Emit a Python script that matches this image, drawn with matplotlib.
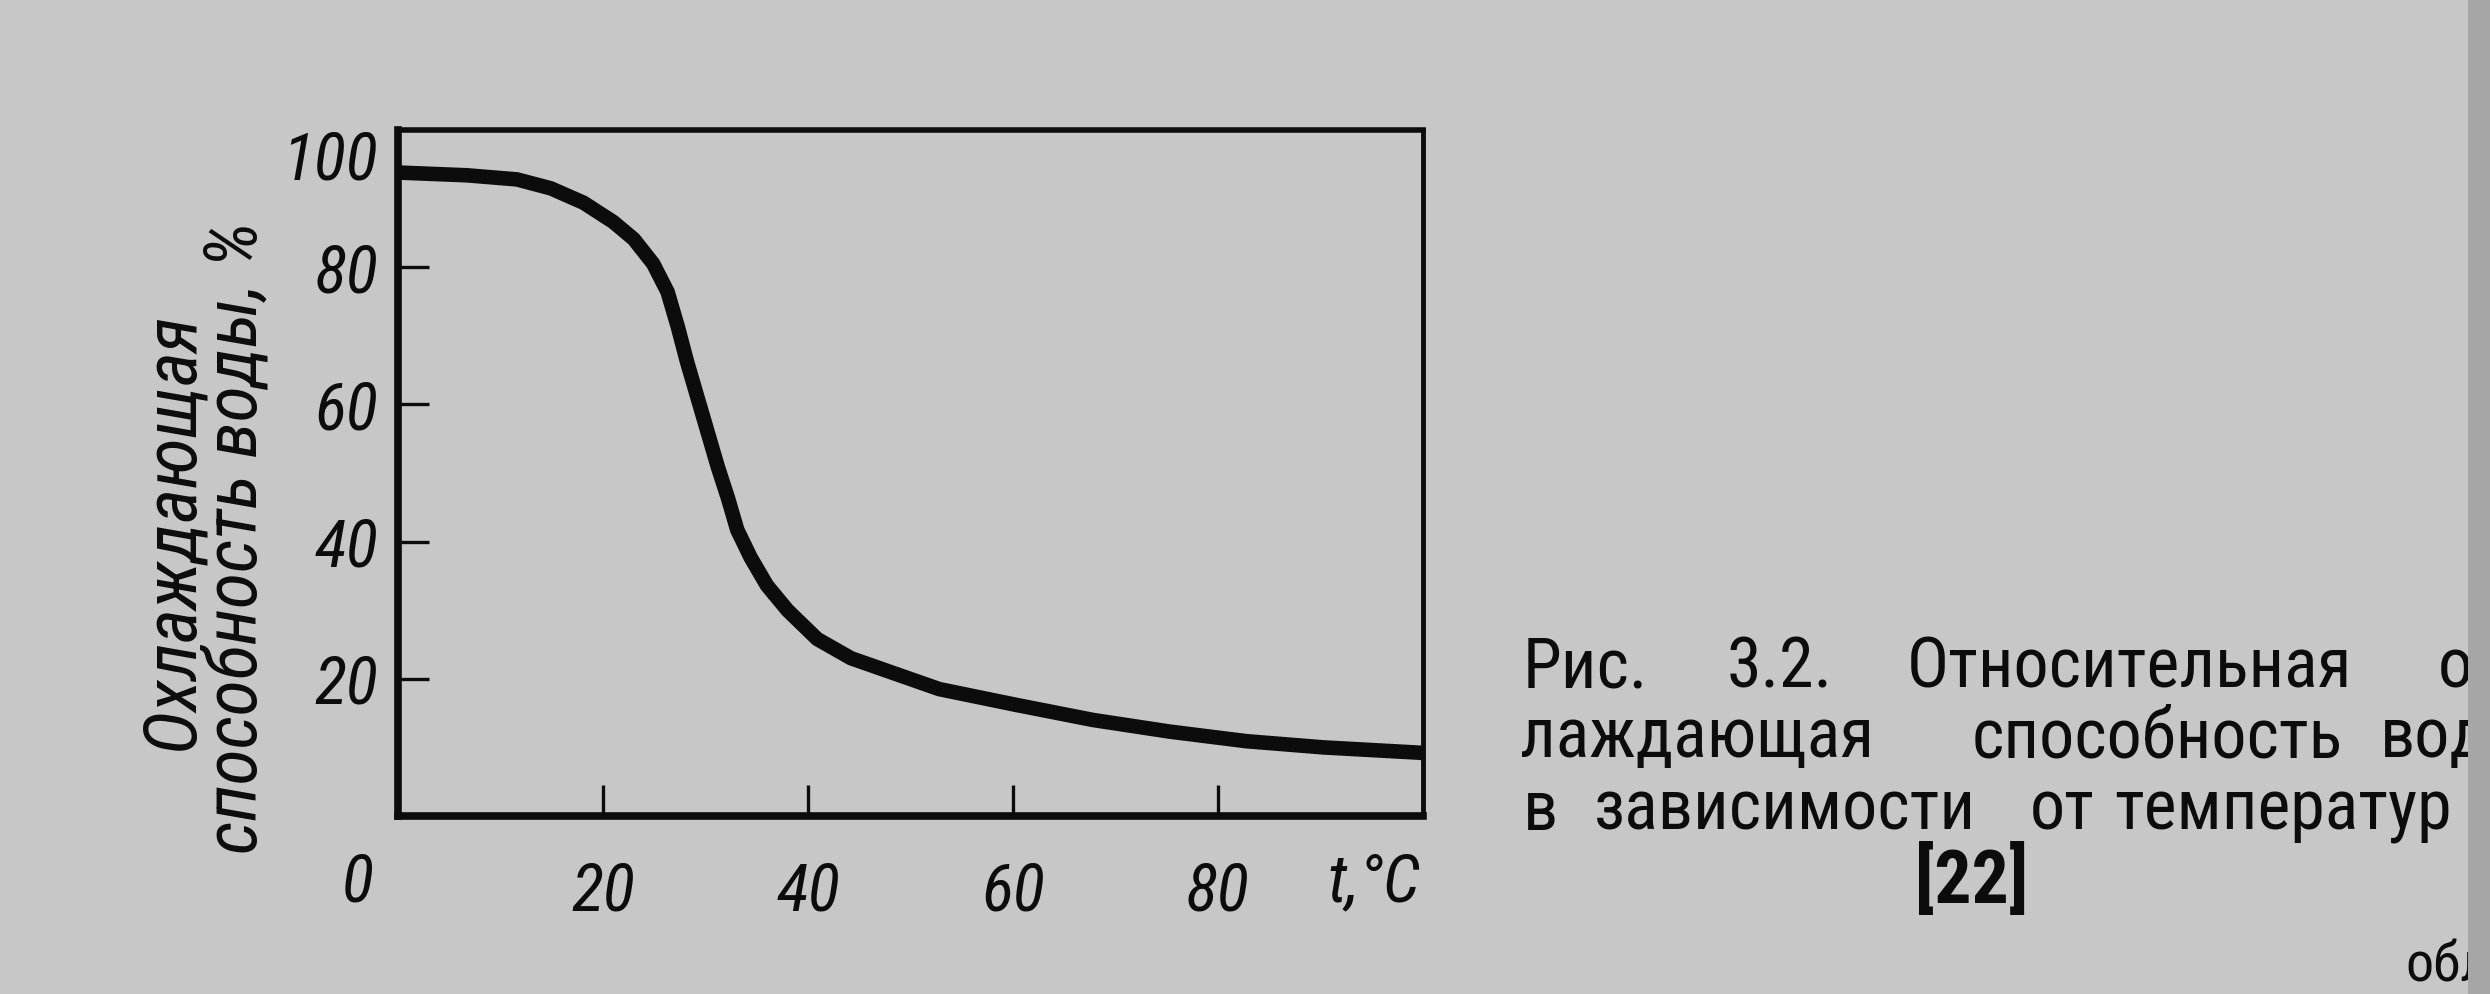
import matplotlib
matplotlib.use("Agg")
import matplotlib.pyplot as plt
from matplotlib import font_manager
from matplotlib.patches import Rectangle

# ---- data ----
temp_c = [0, 6.7, 11.6, 14.9, 18.1, 21.0, 23.0, 24.9, 26.3, 27.3, 28.2, 29.2, 30.2,
          31.2, 32.2, 33.1, 34.4, 36.0, 38.0, 40.9, 44.2, 48.4, 52.8, 60.3, 67.8,
          75.3, 82.8, 90.3, 100]
cooling = [93.8, 93.4, 92.8, 91.5, 89.4, 86.6, 84.1, 80.5, 76.4, 71.3, 66.2, 61.1, 56.0,
           50.9, 46.3, 41.7, 37.7, 33.6, 30.0, 25.8, 23.0, 20.8, 18.5, 16.2, 14.0,
           12.3, 10.9, 10.0, 9.2]
x_ticks = [20, 40, 60, 80]
y_ticks = [20, 40, 60, 80]
y_label_lines = ["Охлаждающая", "способность воды, %"]
x_unit = "t,°C"
caption_lines = [
    ["Рис.", "3.2.", "Относительная", "о"],
    ["лаждающая", "способность", "вод"],
    ["в", "зависимости", "от", "температур"],
]
caption_ref = "[22]"
page_tail = "обл"

# ---- fonts: prefer a narrow / condensed face ----
names = {f.name for f in font_manager.fontManager.ttflist}
narrow_family, narrow_stretch = "Liberation Sans", "normal"
for cand in ("Liberation Sans Narrow", "Roboto Condensed", "Open Sans Condensed",
             "Noto Sans Condensed", "DejaVu Sans Condensed"):
    if cand in names:
        narrow_family = cand
        break
else:
    for f in font_manager.fontManager.ttflist:
        if f.name == "DejaVu Sans" and "ondensed" in str(f.stretch):
            narrow_family, narrow_stretch = "DejaVu Sans", "condensed"
            break

W, H = 2490, 994
fig = plt.figure(figsize=(W / 100, H / 100), dpi=100)
bg = "#c7c7c7"
fig.patch.set_facecolor(bg)
renderer = fig.canvas.get_renderer()

def fx(px):
    return px / W

def fy(py):
    return 1 - py / H

def fit(text_obj, target_px, horizontal=True):
    bb = text_obj.get_window_extent(renderer)
    cur = bb.width if horizontal else bb.height
    if cur > 0:
        text_obj.set_fontsize(text_obj.get_fontsize() * target_px / cur)
    return text_obj.get_fontsize()

ax_l, ax_r, ax_t, ax_b = 398, 1423, 130, 816
ax = fig.add_axes([fx(ax_l), fy(ax_b), fx(ax_r - ax_l), (ax_b - ax_t) / H])
ax.set_facecolor(bg)
ax.set_xlim(0, 100)
ax.set_ylim(0, 100)

ink = "#0c0c0c"
ax.plot(temp_c, cooling, color=ink, lw=10.5, solid_joinstyle="round",
        solid_capstyle="butt")

for side, lw in (("left", 5.5), ("bottom", 5.5), ("top", 4), ("right", 3.5)):
    ax.spines[side].set_linewidth(lw)
    ax.spines[side].set_color(ink)

ax.set_xticks(x_ticks)
ax.set_yticks(y_ticks)
ax.tick_params(direction="in", length=22, width=2.4, color=ink)
ax.tick_params(axis="x", pad=32)
ax.tick_params(axis="y", pad=14)
tick_font = dict(family=narrow_family, stretch=narrow_stretch, style="italic", size=48)
ax.set_xticklabels([str(v) for v in x_ticks], fontdict=tick_font, color=ink)
ax.set_yticklabels([str(v) for v in y_ticks], fontdict=tick_font, color=ink)

# extra axis annotations
fig.text(fx(358), fy(883), "0", ha="center", va="center", color=ink, **tick_font)
fig.text(fx(378), fy(161), "100", ha="right", va="center", color=ink, **tick_font)
fig.text(fx(1374), fy(883), x_unit, ha="center", va="center", color=ink, **tick_font)

# y label (two lines), sized to match the reference length
lab_font = dict(family=narrow_family, stretch=narrow_stretch, style="italic", size=50)
t2 = fig.text(fx(237), fy(538), y_label_lines[1], rotation=90, ha="center", va="center",
              color=ink, **lab_font)
lab_size = fit(t2, 633, horizontal=False)
fig.text(fx(172), fy(531), y_label_lines[0], rotation=90, ha="center", va="center",
         color=ink, family=narrow_family, stretch=narrow_stretch, style="italic",
         size=lab_size)

# caption: word left edges; long words' widths in the reference set the size
word_x = [
    [1523, 1727, 1907, 2438],
    [1520, 1972, 2380],
    [1523, 1594, 2030, 2114],
]
size_refs = [("Относительная", 492), ("лаждающая", 402), ("способность", 371),
             ("зависимости", 409)]
baselines = [687, 757, 830]
probe_size = 52
sizes = []
for w, target in size_refs:
    p = fig.text(0, 0, w, family=narrow_family, stretch=narrow_stretch, size=probe_size)
    bb = p.get_window_extent(renderer)
    sizes.append(probe_size * target / bb.width)
    p.remove()
cap_size = min(min(sizes), 60)
cap_font = dict(family=narrow_family, stretch=narrow_stretch, size=cap_size)
for words, xs, base in zip(caption_lines, word_x, baselines):
    for w, x in zip(words, xs):
        fig.text(fx(x), fy(base), w, ha="left", va="baseline", color=ink, **cap_font)
fig.text(fx(1972), fy(903), caption_ref, ha="center", va="baseline", color=ink,
         family=narrow_family, stretch=narrow_stretch, size=cap_size * 1.05, weight="bold")
fig.text(fx(2405), fy(992), page_tail, ha="left", va="bottom", color=ink,
         family=narrow_family, stretch=narrow_stretch, size=cap_size * 0.8)

# dark page edge on the right
fig.patches.append(Rectangle((fx(2468), 0), 1 - fx(2468), 1, transform=fig.transFigure,
                             facecolor="#a6a6a6", edgecolor="none", zorder=10))

fig.savefig("out.png", dpi=100, facecolor=bg)
